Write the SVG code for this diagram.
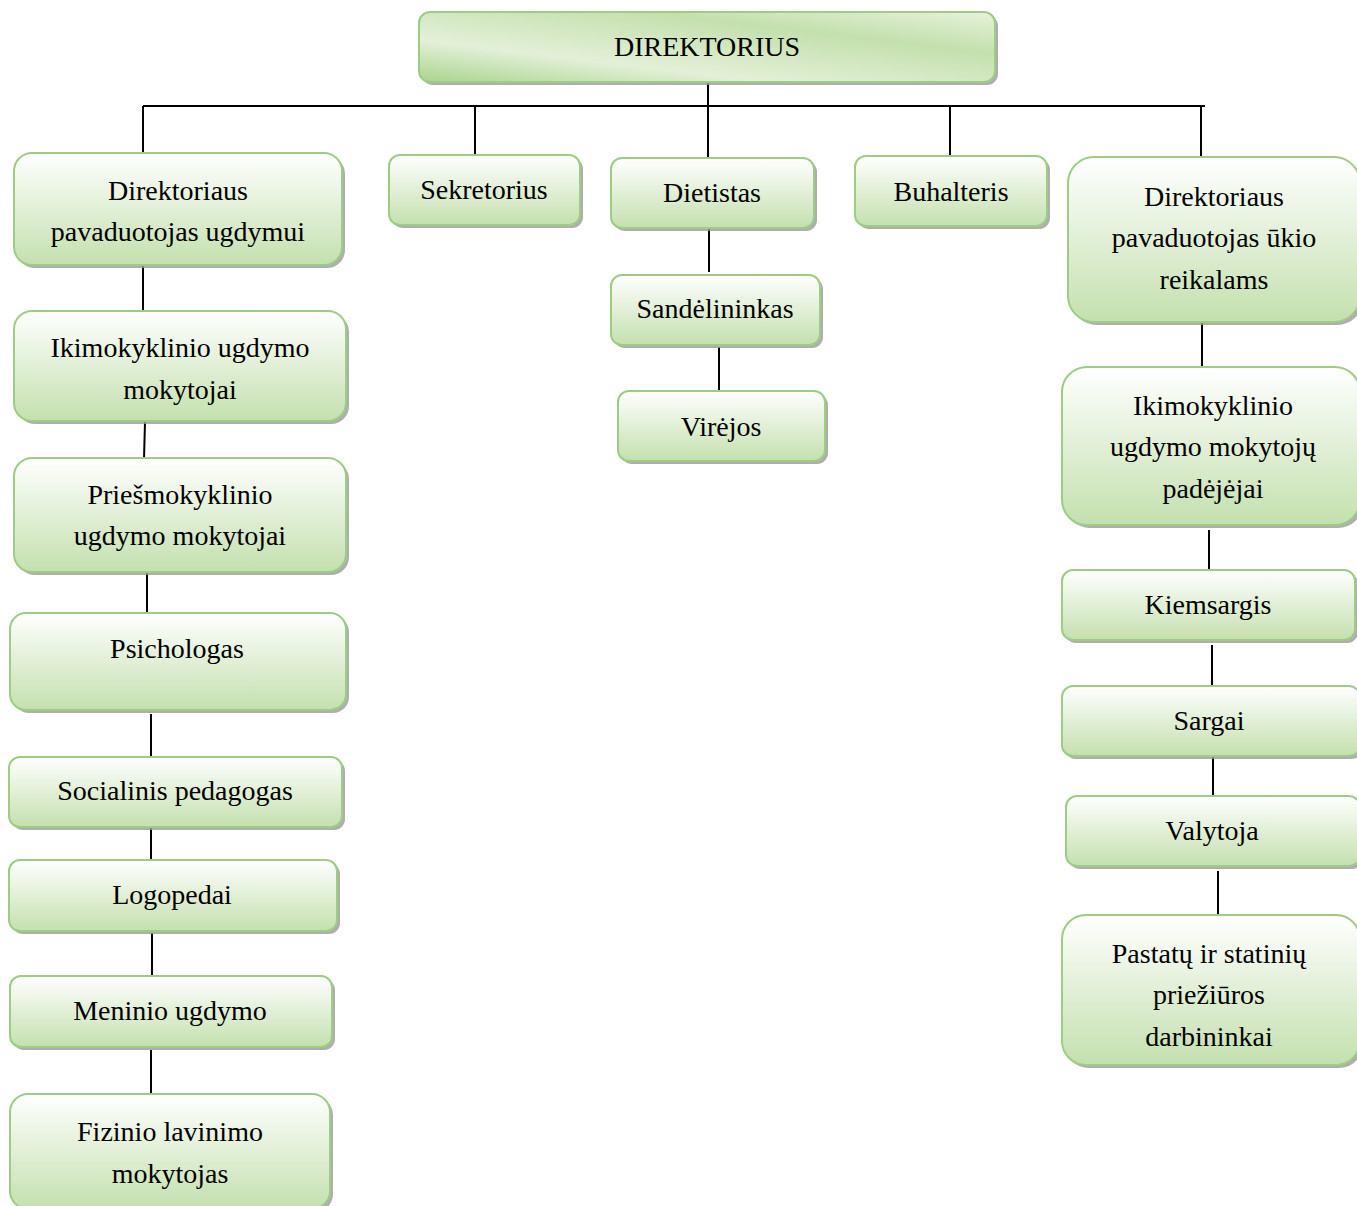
<svg xmlns="http://www.w3.org/2000/svg" width="1357" height="1206" viewBox="0 0 1357 1206">
<defs>
<linearGradient id="g" x1="0" y1="0" x2="0" y2="1">
<stop offset="0" stop-color="#ffffff"/>
<stop offset="1" stop-color="#c4e0ae"/>
</linearGradient>
<linearGradient id="gt" x1="0" y1="1" x2="1" y2="0">
<stop offset="0" stop-color="#a9d48e"/>
<stop offset="0.3" stop-color="#e3f0d8"/>
<stop offset="0.7" stop-color="#c4e0ad"/>
<stop offset="1" stop-color="#e6f2dc"/>
</linearGradient>
</defs>
<style>
.b{fill:url(#g);stroke:#9dcc84;stroke-width:2}
.bt{fill:url(#gt);stroke:#9dcc84;stroke-width:2}
.s{fill:#9a9a9a;opacity:0.8}
.t{font-family:"Liberation Serif","Times New Roman",serif;font-size:28px;fill:#000;text-anchor:middle}
.c line{stroke:#000;stroke-width:2}
</style>
<rect width="1357" height="1206" fill="#fff"/>
<g class="c">
<line x1="708" y1="80" x2="708" y2="106"/>
<line x1="143" y1="106" x2="1205" y2="106"/>
<line x1="143" y1="106" x2="143" y2="152"/>
<line x1="475" y1="106" x2="475" y2="154"/>
<line x1="708" y1="106" x2="708" y2="158"/>
<line x1="950" y1="106" x2="950" y2="157"/>
<line x1="1201" y1="106" x2="1201" y2="158"/>
<line x1="143" y1="265" x2="143" y2="310"/>
<line x1="145" y1="422" x2="144" y2="459"/>
<line x1="147" y1="573" x2="147" y2="614"/>
<line x1="151" y1="714" x2="151" y2="756"/>
<line x1="151" y1="828" x2="151" y2="860"/>
<line x1="152" y1="933" x2="152" y2="975"/>
<line x1="151" y1="1050" x2="151" y2="1093"/>
<line x1="709" y1="229" x2="709" y2="272"/>
<line x1="719" y1="347" x2="719" y2="390"/>
<line x1="1202" y1="323" x2="1202" y2="366"/>
<line x1="1209" y1="530" x2="1209" y2="570"/>
<line x1="1212" y1="645" x2="1212" y2="686"/>
<line x1="1213" y1="757" x2="1213" y2="796"/>
<line x1="1218" y1="871" x2="1218" y2="915"/>
</g>
<g id="n-direktorius"><rect class="s" x="422" y="15" width="576" height="70" rx="11"/><rect class="bt" x="419" y="12" width="576" height="70" rx="11"/><text class="t" x="707" y="56">DIREKTORIUS</text></g>
<g id="n-pav-ugd"><rect class="s" x="17" y="156" width="328" height="112" rx="18"/><rect class="b" x="14" y="153" width="328" height="112" rx="18"/><text class="t" x="178" y="200">Direktoriaus</text><text class="t" x="178" y="241">pavaduotojas ugdymui</text></g>
<g id="n-ikimok"><rect class="s" x="17" y="314" width="332" height="110" rx="18"/><rect class="b" x="14" y="311" width="332" height="110" rx="18"/><text class="t" x="180" y="357">Ikimokyklinio ugdymo</text><text class="t" x="180" y="399">mokytojai</text></g>
<g id="n-priesmok"><rect class="s" x="17" y="461" width="332" height="114" rx="18"/><rect class="b" x="14" y="458" width="332" height="114" rx="18"/><text class="t" x="180" y="504">Priešmokyklinio</text><text class="t" x="180" y="545">ugdymo mokytojai</text></g>
<g id="n-psich"><rect class="s" x="13" y="616" width="336" height="97" rx="16"/><rect class="b" x="10" y="613" width="336" height="97" rx="16"/><text class="t" x="177" y="658">Psichologas</text></g>
<g id="n-soc"><rect class="s" x="12" y="760" width="333" height="70" rx="11"/><rect class="b" x="9" y="757" width="333" height="70" rx="11"/><text class="t" x="175" y="800">Socialinis pedagogas</text></g>
<g id="n-logo"><rect class="s" x="12" y="863" width="328" height="71" rx="11"/><rect class="b" x="9" y="860" width="328" height="71" rx="11"/><text class="t" x="172" y="904">Logopedai</text></g>
<g id="n-menin"><rect class="s" x="13" y="979" width="322" height="71" rx="11"/><rect class="b" x="10" y="976" width="322" height="71" rx="11"/><text class="t" x="170" y="1020">Meninio ugdymo</text></g>
<g id="n-fizin"><rect class="s" x="13" y="1097" width="320" height="115" rx="18"/><rect class="b" x="10" y="1094" width="320" height="115" rx="18"/><text class="t" x="170" y="1141">Fizinio lavinimo</text><text class="t" x="170" y="1183">mokytojas</text></g>
<g id="n-sekr"><rect class="s" x="392" y="158" width="191" height="70" rx="11"/><rect class="b" x="389" y="155" width="191" height="70" rx="11"/><text class="t" x="484" y="199">Sekretorius</text></g>
<g id="n-diet"><rect class="s" x="614" y="161" width="203" height="70" rx="11"/><rect class="b" x="611" y="158" width="203" height="70" rx="11"/><text class="t" x="712" y="202">Dietistas</text></g>
<g id="n-sand"><rect class="s" x="614" y="278" width="209" height="70" rx="11"/><rect class="b" x="611" y="275" width="209" height="70" rx="11"/><text class="t" x="715" y="318">Sandėlininkas</text></g>
<g id="n-virejos"><rect class="s" x="621" y="394" width="207" height="70" rx="11"/><rect class="b" x="618" y="391" width="207" height="70" rx="11"/><text class="t" x="721" y="436">Virėjos</text></g>
<g id="n-buhal"><rect class="s" x="858" y="159" width="192" height="70" rx="11"/><rect class="b" x="855" y="156" width="192" height="70" rx="11"/><text class="t" x="951" y="201">Buhalteris</text></g>
<g id="n-pav-ukio"><rect class="s" x="1071" y="160" width="292" height="165" rx="26"/><rect class="b" x="1068" y="157" width="292" height="165" rx="26"/><text class="t" x="1214" y="206">Direktoriaus</text><text class="t" x="1214" y="247">pavaduotojas ūkio</text><text class="t" x="1214" y="289">reikalams</text></g>
<g id="n-padejejai"><rect class="s" x="1065" y="370" width="298" height="158" rx="25"/><rect class="b" x="1062" y="367" width="298" height="158" rx="25"/><text class="t" x="1213" y="415">Ikimokyklinio</text><text class="t" x="1213" y="456">ugdymo mokytojų</text><text class="t" x="1213" y="498">padėjėjai</text></g>
<g id="n-kiems"><rect class="s" x="1065" y="573" width="293" height="70" rx="11"/><rect class="b" x="1062" y="570" width="293" height="70" rx="11"/><text class="t" x="1208" y="614">Kiemsargis</text></g>
<g id="n-sargai"><rect class="s" x="1065" y="689" width="298" height="70" rx="11"/><rect class="b" x="1062" y="686" width="298" height="70" rx="11"/><text class="t" x="1209" y="730">Sargai</text></g>
<g id="n-valyt"><rect class="s" x="1069" y="799" width="294" height="70" rx="11"/><rect class="b" x="1066" y="796" width="294" height="70" rx="11"/><text class="t" x="1212" y="840">Valytoja</text></g>
<g id="n-pastatu"><rect class="s" x="1065" y="918" width="298" height="150" rx="24"/><rect class="b" x="1062" y="915" width="298" height="150" rx="24"/><text class="t" x="1209" y="963">Pastatų ir statinių</text><text class="t" x="1209" y="1004">priežiūros</text><text class="t" x="1209" y="1046">darbininkai</text></g>
</svg>
